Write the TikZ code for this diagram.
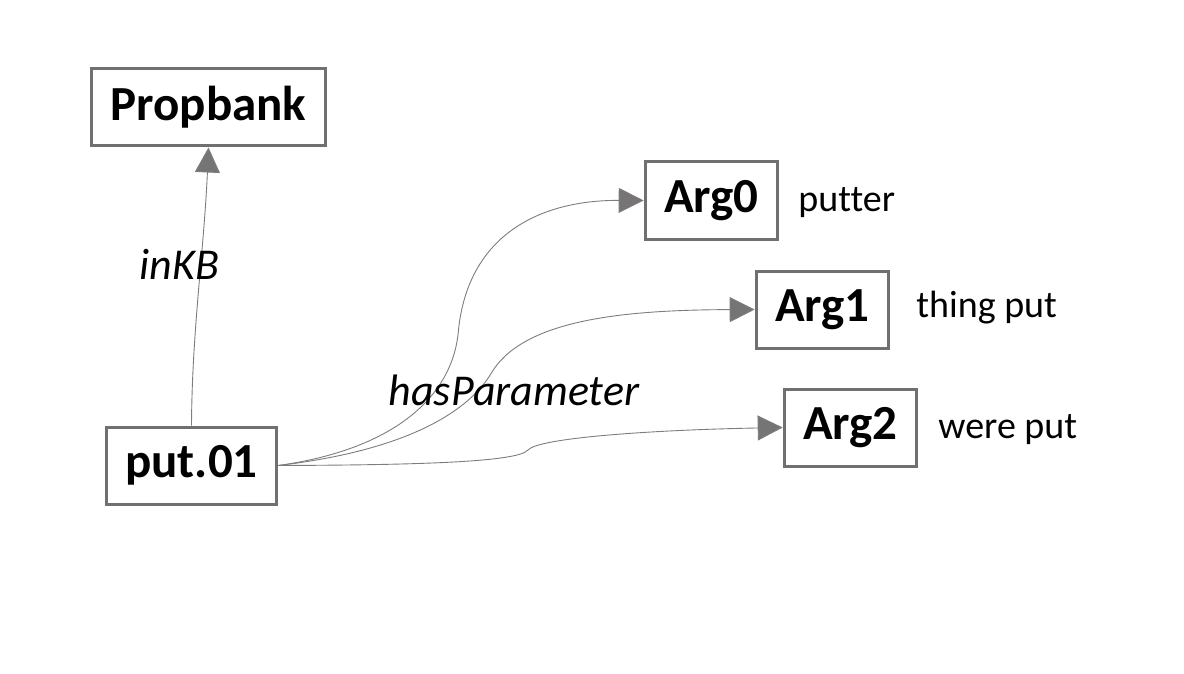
\documentclass[tikz,border=0pt]{standalone}
\usepackage{fontspec}
\setmainfont[Ligatures=NoCommon]{Carlito}
\usepackage{tikz}
\usetikzlibrary{arrows.meta}

\definecolor{boxgray}{RGB}{112,112,112}
\definecolor{linegray}{RGB}{125,125,125}
\definecolor{tipgray}{RGB}{118,116,116}

\begin{document}
\begin{tikzpicture}[x=1pt, y=-1pt, ->, >={Triangle[length=25pt,width=25pt,fill=tipgray]},
    line width=0.9pt, draw=linegray]

    \tikzstyle{box}=[draw=boxgray, line width=3pt, fill=white, text=black,
      inner xsep=19pt, minimum height=77pt, font=\fontsize{49}{52}\selectfont\bfseries]
    \tikzstyle{gloss}=[anchor=west, inner sep=0pt, font=\fontsize{38}{40}\selectfont]
    \tikzstyle{rel}=[font=\fontsize{44}{48}\selectfont\itshape, inner sep=0pt]

    \useasboundingbox (0,0) rectangle (1184,674);

    \node[box] (propbank) at (208.5,107.5) {Propbank};
    \node[box] (put)      at (191.5,465.5) {put.01};
    \node[box] (arg0)     at (711.5,200.5) {Arg0};
    \node[box] (arg1)     at (822.5,309.5) {Arg1};
    \node[box] (arg2)     at (850.5,427.5) {Arg2};

    \node[gloss] (g0) at (798,203) {putter};
    \node[gloss] (g1) at (916,308) {thing put};
    \node[gloss] (g2) at (938,430) {were put};

    \path[draw=linegray] (put.north) .. controls (192,330) and (204,250) .. node[rel, pos=0.59, xshift=-21pt] {inKB} (propbank.south);

    % hasParameter edges
    \draw (put.east) .. controls (390,450) and (450,400) .. (458,335)
                     .. controls (466,235) and (540,200) .. (arg0.west);
    \draw (put.east) .. controls (410,450) and (470,410) .. (492,372)
                     .. controls (525,318) and (630,310) .. (arg1.west);
    \draw (put.east) .. controls (420,465) and (518,462) .. (528,450)
                     .. controls (538,438) and (650,430) .. (arg2.west);

    \node[rel] (has) at (514,390) {hasParameter};
\end{tikzpicture}
\end{document}
